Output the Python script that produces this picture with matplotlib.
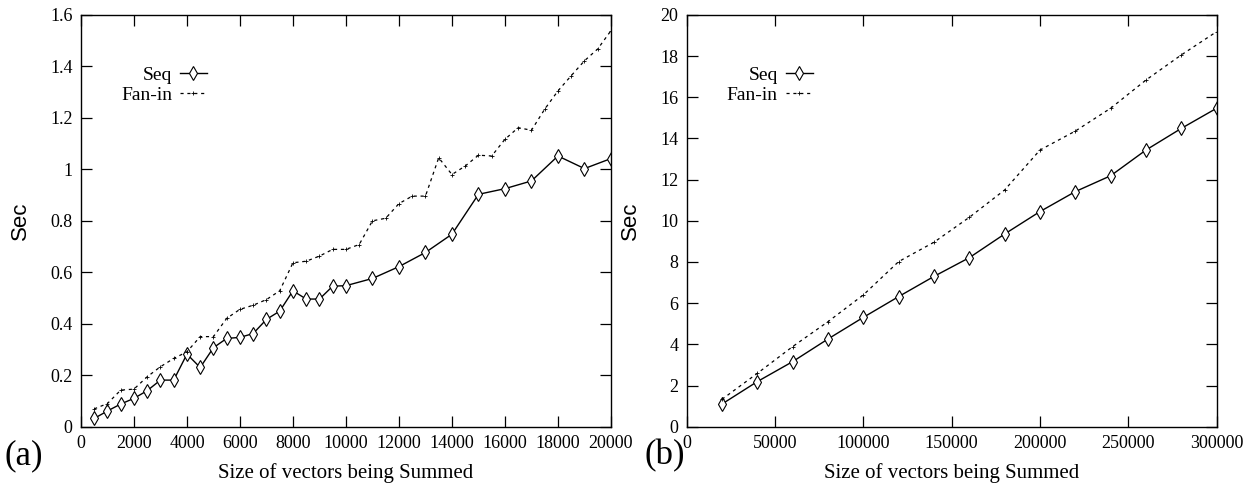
import matplotlib
matplotlib.use("Agg")
import matplotlib.pyplot as plt

# (a) small vectors
a_seq_x = [500, 1000, 1500, 2000, 2500, 3000, 3500, 4000, 4500, 5000, 5500, 6000,
           6500, 7000, 7500, 8000, 8500, 9000, 9500, 10000, 11000, 12000, 13000,
           14000, 15000, 16000, 17000, 18000, 19000, 20000]
a_seq_y = [0.032, 0.061, 0.088, 0.110, 0.140, 0.181, 0.181, 0.282, 0.230, 0.307,
           0.343, 0.347, 0.362, 0.417, 0.449, 0.528, 0.496, 0.496, 0.546, 0.548,
           0.576, 0.622, 0.677, 0.748, 0.903, 0.925, 0.955, 1.052, 1.003, 1.042]
a_fan_x = [500, 1000, 1500, 2000, 2500, 3000, 3500, 4000, 4500, 5000, 5500, 6000,
           6500, 7000, 7500, 8000, 8500, 9000, 9500, 10000, 10500, 11000, 11500,
           12000, 12500, 13000, 13500, 14000, 14500, 15000, 15500, 16000, 16500,
           17000, 17500, 18000, 18500, 19000, 19500, 20000]
a_fan_y = [0.069, 0.090, 0.142, 0.146, 0.194, 0.233, 0.265, 0.291, 0.350, 0.350,
           0.421, 0.456, 0.472, 0.494, 0.528, 0.637, 0.643, 0.663, 0.689, 0.689,
           0.708, 0.800, 0.810, 0.867, 0.896, 0.896, 1.045, 0.980, 1.013, 1.055,
           1.052, 1.117, 1.162, 1.152, 1.234, 1.305, 1.364, 1.422, 1.468, 1.539]

# (b) large vectors
b_x = [20000, 40000, 60000, 80000, 100000, 120000, 140000, 160000, 180000,
       200000, 220000, 240000, 260000, 280000, 300000]
b_seq_y = [1.10, 2.19, 3.16, 4.26, 5.31, 6.32, 7.30, 8.21, 9.36, 10.45, 11.42,
           12.19, 13.44, 14.49, 15.47]
b_fan_y = [1.33, 2.59, 3.89, 5.10, 6.40, 8.02, 8.96, 10.17, 11.50, 13.44, 14.36,
           15.47, 16.84, 18.06, 19.19]

a_xticks = list(range(0, 20001, 2000))
a_yticks = [0, 0.2, 0.4, 0.6, 0.8, 1, 1.2, 1.4, 1.6]
a_ylabels = ["0", "0.2", "0.4", "0.6", "0.8", "1", "1.2", "1.4", "1.6"]
b_xticks = list(range(0, 300001, 50000))
b_yticks = list(range(0, 21, 2))

serif = ["Liberation Serif", "DejaVu Serif"]
plt.rcParams["font.family"] = serif

fig = plt.figure(figsize=(12.53, 4.91), dpi=100)
ax1 = fig.add_axes([0.0646, 0.131, 0.4230, 0.8385])
ax2 = fig.add_axes([0.5480, 0.131, 0.4230, 0.8385])


def draw(ax, sx, sy, fx, fy, xticks, yticks, ylabels, xlim, ylim, tag, tag_x):
    ax.plot(sx, sy, color="black", lw=1.0, marker="d", ms=7, mfc="white",
            mec="black", mew=0.8, label="Seq")
    ax.plot(fx, fy, color="black", lw=0.9, ls=(0, (2.5, 3)), marker="+",
            ms=3, mew=0.6, label="Fan-in")
    ax.set_xlim(*xlim)
    ax.set_ylim(*ylim)
    ax.set_xticks(xticks)
    ax.set_xticklabels([str(t) for t in xticks])
    ax.set_yticks(yticks)
    ax.set_yticklabels(ylabels)
    ax.tick_params(direction="in", length=8, width=0.9, top=True, right=True,
                   labelsize=13, pad=6)
    for s in ax.spines.values():
        s.set_linewidth(1.0)
    ax.set_xlabel("Size of vectors being Summed", fontsize=15, labelpad=8)
    ax.set_ylabel("Sec", fontsize=16, family=["Liberation Sans", "DejaVu Sans"],
                  labelpad=14)
    ax.legend(loc="upper right", bbox_to_anchor=(0.238, 0.875),
              markerfirst=False, frameon=False, fontsize=14,
              handlelength=1.4, handletextpad=0.4, labelspacing=0.1,
              borderaxespad=0, borderpad=0)
    ax.text(tag_x, -0.03, tag, transform=ax.transAxes, fontsize=25,
            va="top", ha="left")


draw(ax1, a_seq_x, a_seq_y, a_fan_x, a_fan_y, a_xticks, a_yticks, a_ylabels,
     (0, 20000), (0, 1.6), "(a)", -0.145)
draw(ax2, b_x, b_seq_y, b_x, b_fan_y, b_xticks, b_yticks,
     [str(t) for t in b_yticks], (0, 300000), (0, 20), "(b)", -0.08)

fig.savefig("out.png", dpi=100)
